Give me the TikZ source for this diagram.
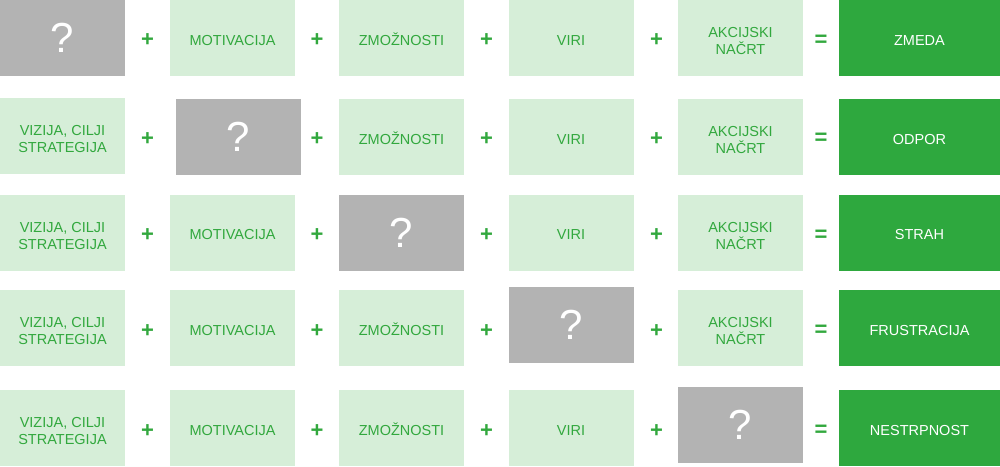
\documentclass[tikz,border=0pt]{standalone}
\usepackage{fontspec}
\setmainfont{Liberation Sans}
\usetikzlibrary{positioning}
\definecolor{lightgr}{RGB}{214,238,216}
\definecolor{textgr}{RGB}{50,168,62}
\definecolor{darkgr}{RGB}{46,168,62}
\definecolor{missgr}{RGB}{179,179,179}
\tikzset{part/.style={fill=lightgr,text=textgr,minimum width=125pt,minimum height=76pt,inner sep=0pt,align=center,font=\fontsize{14.5}{17}\selectfont},}
\tikzset{single/.style={part,text height=14.5pt,text depth=0pt},}
\tikzset{double/.style={part,text height=34pt,text depth=0.5pt},}
\tikzset{miss/.style={fill=missgr,text=white,minimum width=125pt,minimum height=76pt,inner sep=0pt,font=\fontsize{42}{42}\selectfont},}
\tikzset{result/.style={fill=darkgr,text=white,minimum width=161pt,minimum height=76pt,inner sep=0pt,text height=14.5pt,text depth=0pt,font=\fontsize{14.5}{17}\selectfont},}
\tikzset{op/.style={text=textgr,inner sep=0pt,font=\bfseries\fontsize{22}{22}\selectfont},}

\begin{document}
\begin{tikzpicture}[x=1pt,y=-1pt]
	\useasboundingbox (0,0) rectangle (1000,466);
	% row 1
	\node[miss] (q1) at (62.5,38) {?};
	\node[single] (m1) at (232.5,38) {MOTIVACIJA};
	\node[single] (z1) at (401.5,38) {ZMOŽNOSTI};
	\node[single] (r1) at (571,38) {VIRI};
	\node[double] (a1) at (740.5,38) {AKCIJSKI\\NAČRT};
	\node[result] (res1) at (919.5,38) {ZMEDA};
	% row 2
	\node[double] (v2) at (62.5,136) {VIZIJA, CILJI\\STRATEGIJA};
	\node[miss] (q2) at (238.5,137) {?};
	\node[single] (z2) at (401.5,137) {ZMOŽNOSTI};
	\node[single] (r2) at (571,137) {VIRI};
	\node[double] (a2) at (740.5,137) {AKCIJSKI\\NAČRT};
	\node[result] (res2) at (919.5,137) {ODPOR};
	% row 3
	\node[double] (v3) at (62.5,232.5) {VIZIJA, CILJI\\STRATEGIJA};
	\node[single] (m3) at (232.5,232.5) {MOTIVACIJA};
	\node[miss] (q3) at (401.5,232.5) {?};
	\node[single] (r3) at (571,232.5) {VIRI};
	\node[double] (a3) at (740.5,232.5) {AKCIJSKI\\NAČRT};
	\node[result] (res3) at (919.5,232.5) {STRAH};
	% row 4
	\node[double] (v4) at (62.5,328) {VIZIJA, CILJI\\STRATEGIJA};
	\node[single] (m4) at (232.5,328) {MOTIVACIJA};
	\node[single] (z4) at (401.5,328) {ZMOŽNOSTI};
	\node[miss] (q4) at (571,325) {?};
	\node[double] (a4) at (740.5,328) {AKCIJSKI\\NAČRT};
	\node[result] (res4) at (919.5,328) {FRUSTRACIJA};
	% row 5
	\node[double] (v5) at (62.5,428) {VIZIJA, CILJI\\STRATEGIJA};
	\node[single] (m5) at (232.5,428) {MOTIVACIJA};
	\node[single] (z5) at (401.5,428) {ZMOŽNOSTI};
	\node[single] (r5) at (571,428) {VIRI};
	\node[miss] (q5) at (740.5,425) {?};
	\node[result] (res5) at (919.5,428) {NESTRPNOST};

	\foreach \y [count=\r] in {40.5,139,235.5,331,431}{
		\node[op] (p\r1) at (147.5,\y) {+};
		\node[op] (p\r2) at (317,\y) {+};
		\node[op] (p\r3) at (486.5,\y) {+};
		\node[op] (p\r4) at (656.5,\y) {+};
		\node[op] (e\r) at (821,\y) {=};
	}
\end{tikzpicture}
\end{document}
